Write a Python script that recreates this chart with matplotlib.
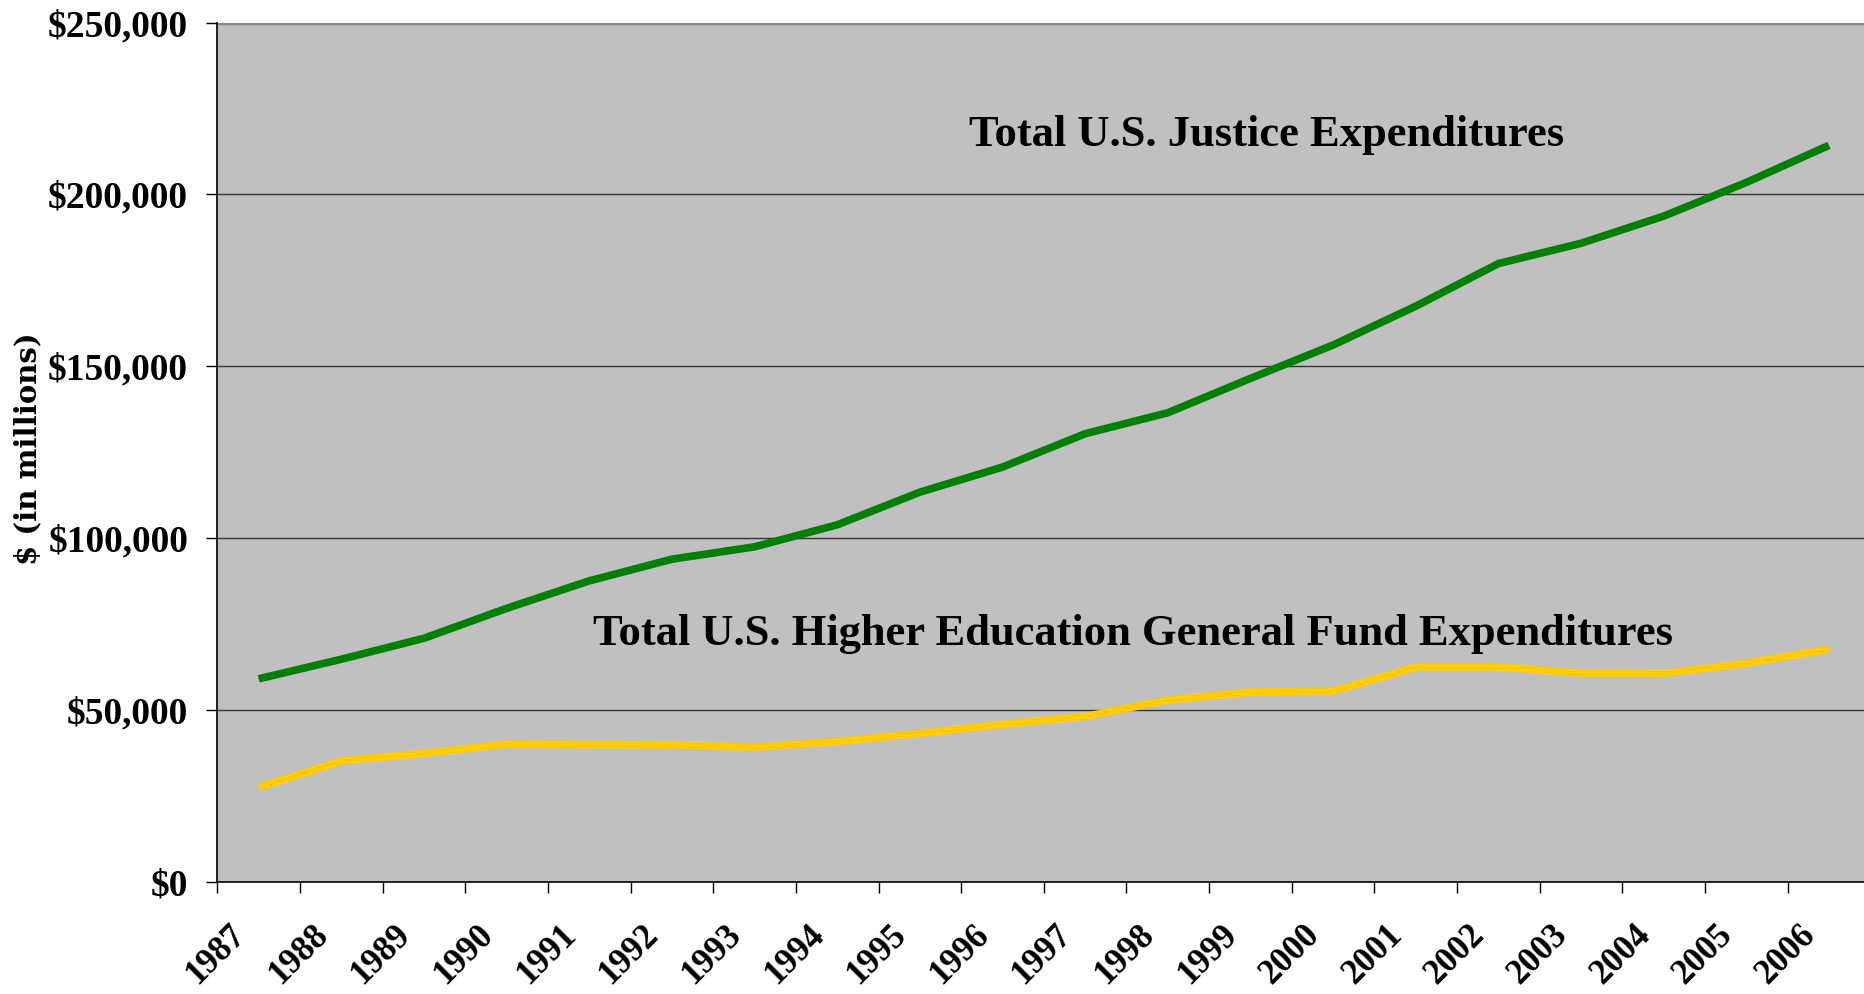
import numpy as np
import matplotlib
matplotlib.use("Agg")
import matplotlib.pyplot as plt
import matplotlib.transforms as mtransforms
from matplotlib.ticker import FuncFormatter

# ---------------- DATA ($ in millions) ----------------
years = ["1987", "1988", "1989", "1990", "1991", "1992", "1993", "1994", "1995", "1996",
         "1997", "1998", "1999", "2000", "2001", "2002", "2003", "2004", "2005", "2006"]
justice = [59100, 64800, 70900, 79600, 87600, 93900, 97500, 103900, 113400, 120700,
           130400, 136500, 146500, 156200, 167500, 179900, 185800, 193700, 203500, 214300]
higher_ed = [27500, 35200, 37400, 40100, 39900, 39800, 39200, 40800, 43200, 45800,
             48100, 52900, 55200, 55500, 62500, 62500, 60700, 60600, 63600, 67700]
y_ticks = [0, 50000, 100000, 150000, 200000, 250000]
# ------------------------------------------------------

SERIF = "Liberation Serif"
GREEN = "#008000"
YELLOW = "#FFCC00"
BG = "#C0C0C0"

fig = plt.figure(figsize=(18.64, 9.94), dpi=100)
fig.patch.set_facecolor("white")
ax = fig.add_axes([217.3 / 1864, 1 - 882 / 994, 1653 / 1864, (882 - 22.6) / 994])
ax.set_facecolor(BG)

x = np.arange(len(years))
ax.plot(x, justice, color=GREEN, lw=5.5, solid_joinstyle="miter", solid_capstyle="butt", zorder=3)
ax.plot(x, higher_ed, color=YELLOW, lw=5.5, solid_joinstyle="miter", solid_capstyle="butt", zorder=3)

ax.set_xlim(-0.5, len(years) - 0.5)
ax.set_ylim(0, 250000)

# gridlines
for v in y_ticks[1:-1]:
    ax.axhline(v, color="#333333", lw=1, zorder=1)
ax.axhline(250000, color="#888888", lw=2.5, zorder=1)

for s in ["top", "right"]:
    ax.spines[s].set_visible(False)
for s in ["left", "bottom"]:
    ax.spines[s].set_color("black")
    ax.spines[s].set_linewidth(1.2)

# y axis
ax.set_yticks(y_ticks)
ax.yaxis.set_major_formatter(FuncFormatter(lambda v, p: f"${int(v):,}"))
ax.tick_params(axis="y", direction="out", length=8, width=1, pad=13)
for lbl in ax.get_yticklabels():
    lbl.set_fontfamily(SERIF)
    lbl.set_fontweight("bold")
    lbl.set_fontsize(27)

# x axis: tick marks between categories, labels at category centres
ax.set_xticks(np.arange(-0.5, len(years), 1.0))
ax.set_xticklabels([])
ax.tick_params(axis="x", direction="out", length=8, width=1)

offset = mtransforms.ScaledTranslation(-30 / 100, -36 / 100, fig.dpi_scale_trans)
trans = mtransforms.blended_transform_factory(ax.transData, ax.transAxes) + offset
for i, yr in enumerate(years):
    ax.text(i, 0, yr, transform=trans, rotation=45, rotation_mode="anchor",
            ha="right", va="top", fontsize=25, fontweight="bold",
            family=SERIF, clip_on=False)

# series labels
ax.text(8.59, 214100, "Total U.S. Justice Expenditures", ha="left", va="baseline",
        fontsize=32, fontweight="bold", family=SERIF)
ax.text(4.04, 68800, "Total U.S. Higher Education General Fund Expenditures",
        ha="left", va="baseline", fontsize=32, fontweight="bold", family=SERIF)

fig.text(28 / 1864, 1 - 449 / 994, "$ (in millions)", rotation=90, ha="center",
         va="center", fontsize=21, fontweight="bold", family="DejaVu Serif")

fig.savefig("out.png", dpi=100, facecolor=fig.get_facecolor())
